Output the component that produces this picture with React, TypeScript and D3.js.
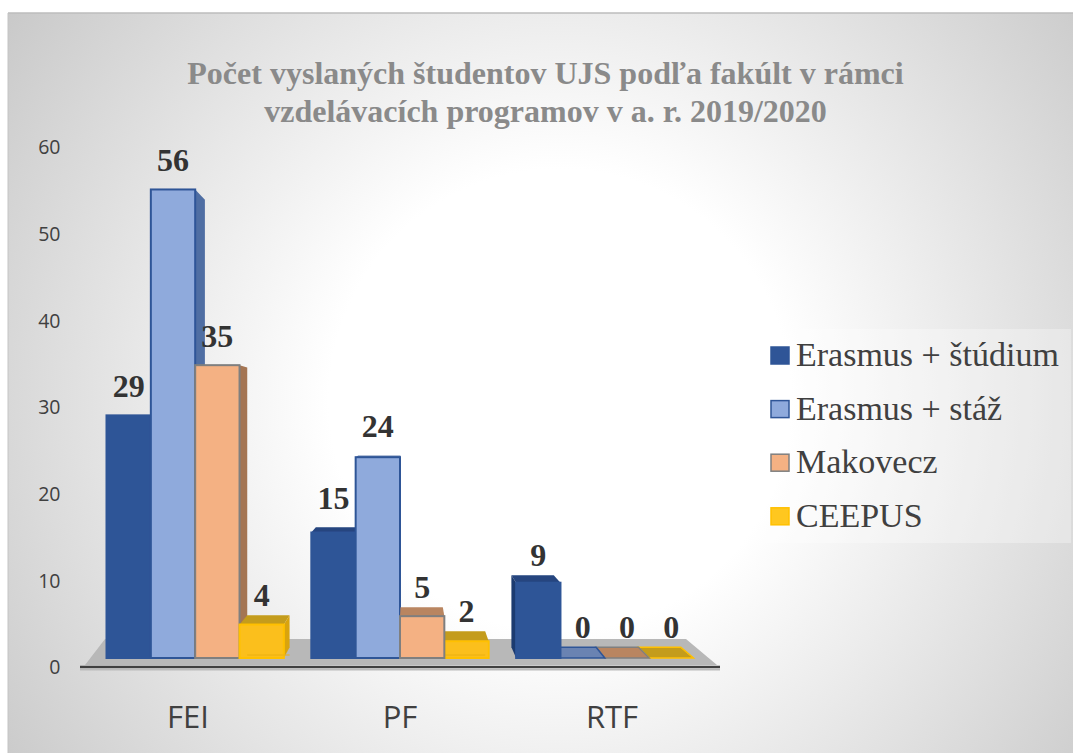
import React from "react";
import * as d3 from "d3";

const titleLines = ["Počet vyslaných študentov UJS podľa fakúlt v rámci", "vzdelávacích programov v a. r. 2019/2020"];
const categories = ["FEI", "PF", "RTF"];
const seriesNames = ["Erasmus + štúdium", "Erasmus + stáž", "Makovecz", "CEEPUS"];
const erasmusStudy = [29, 15, 9];
const erasmusIntern = [56, 24, 0];
const makovecz = [35, 5, 0];
const ceepus = [4, 2, 0];
const yTicks = [0, 10, 20, 30, 40, 50, 60];

const seriesValues = [erasmusStudy, erasmusIntern, makovecz, ceepus];
const faces = [
  { front: "#2f5597", stroke: "#2f5597", side: "#1f3b6f", top: "#25457f" },
  { front: "#8faadc", stroke: "#2f5597", side: "#4f6ea3", top: "#6a83b2" },
  { front: "#f4b183", stroke: "#7f7f7f", side: "#a47553", top: "#b98560" },
  { front: "#fbbf1c", stroke: "#ffc000", side: "#d9a410", top: "#c49c1c" },
];

const VX = 411, VY = 418, K = 0.045;
const back = (x: number, y: number): [number, number] => [x + K * (VX - x), y + K * (VY - y)];
const pts = (p: [number, number][]) => p.map((d) => d.join(",")).join(" ");

const serif = "'Liberation Serif', serif";
const sans = "'Open Sans', sans-serif";

export default function App() {
  const yFront = d3.scaleLinear().domain([0, 60]).range([658, 156]);
  const yTick = d3.scaleLinear().domain([0, 60]).range([667.5, 147.5]);
  const x0 = d3.scaleBand().domain(categories).range([106.5, 693.5]).paddingInner(0.134).paddingOuter(0);
  const x1 = d3.scaleBand<number>().domain(d3.range(4)).range([0, x0.bandwidth()]);
  const xLabel = d3.scalePoint().domain(categories).range([188, 612]);
  const base = yFront(0);

  const bars = categories.flatMap((c, ci) =>
    seriesValues.map((vals, si) => {
      const left = x0(c)! + x1(si)!;
      return { si, v: vals[ci], left, right: left + x1.bandwidth(), top: yFront(vals[ci]) };
    })
  );
  const ordered = d3.sort(bars, (a, b) =>
    d3.descending(Math.abs((a.left + a.right) / 2 - VX), Math.abs((b.left + b.right) / 2 - VX))
  );

  return (
    <svg width={1073} height={753} style={{ position: "absolute", left: 0, top: 0, display: "block" }}>
      <defs>
        <radialGradient id="bg" gradientUnits="userSpaceOnUse" cx={560} cy={400} r={700}>
          <stop offset="0" stopColor="#ffffff" />
          <stop offset="0.33" stopColor="#ffffff" />
          <stop offset="1" stopColor="#c6c6c6" />
        </radialGradient>
        <filter id="soft" x="-5%" y="-5%" width="110%" height="110%">
          <feGaussianBlur stdDeviation="0.5" />
        </filter>
      </defs>
      <rect x={0} y={0} width={1073} height={753} fill="#fff" />
      <rect x={8} y={13} width={1065} height={740} fill="url(#bg)" />
      <line x1={8} x2={1073} y1={13} y2={13} stroke="#bdbdbd" strokeWidth={1.5} />
      <line x1={8} x2={8} y1={13} y2={753} stroke="#c4c4c4" strokeWidth={1} />

      {titleLines.map((t, i) => (
        <text key={t} x={545.5} y={84 + i * 37.5} textAnchor="middle" fontFamily={serif} fontWeight="bold" fontSize={32} fill="#8a8a8a">
          {t}
        </text>
      ))}

      {yTicks.map((t) => (
        <text key={t} x={60.5} y={yTick(t)} dy="0.35em" textAnchor="end" fontFamily={sans} fontSize={19.5} fill="#404040">
          {t}
        </text>
      ))}

      <g filter="url(#soft)">
        <polygon points={pts([[85, 665], [105, base - 19], [686, base - 19], [717, 665]])} fill="#b8b8b8" />
        <line x1={80} x2={720} y1={667} y2={667} stroke="#404040" strokeWidth={2.5} />
        <line x1={80} x2={720} y1={669.5} y2={669.5} stroke="#bbbbbb" strokeWidth={2} />

        {ordered.map((b, i) => {
          const f = faces[b.si];
          const [blx, bty] = back(b.left, b.top);
          const [brx] = back(b.right, b.top);
          const [, bby] = back(b.left, base);
          const rightVisible = brx > b.right;
          const leftVisible = blx < b.left;
          return (
            <g key={i}>
              {bty < b.top && (
                <polygon
                  points={pts([[b.left, b.top], [blx, bty], [brx, bty], [b.right, b.top]])}
                  fill={f.top}
                  stroke={b.v === 0 ? f.stroke : "none"}
                  strokeWidth={b.v === 0 ? 1.5 : 0}
                />
              )}
              {rightVisible && b.v > 0 && (
                <polygon points={pts([[b.right, b.top], [brx, bty], [brx, bby], [b.right, base]])} fill={f.side} />
              )}
              {leftVisible && b.v > 0 && (
                <polygon points={pts([[b.left, b.top], [blx, bty], [blx, bby], [b.left, base]])} fill={f.side} />
              )}
              {b.v > 0 && (
                <rect x={b.left} y={b.top} width={b.right - b.left} height={base - b.top} fill={f.front} stroke={f.stroke} strokeWidth={2} />
              )}
              {b.si === 3 && b.v > 0 && (
                <polyline points={pts([[blx, base - 3], [brx, base - 3]])} fill="none" stroke="#eab014" strokeWidth={1} />
              )}
            </g>
          );
        })}
      </g>

      {bars.map((b, i) => {
        const [, bty] = back(b.left, b.top);
        const y = Math.min(b.top, bty) - (b.v >= 10 ? 18 : 9.5);
        return (
          <text key={i} x={(b.left + b.right) / 2} y={y} textAnchor="middle" fontFamily={serif} fontWeight="bold" fontSize={32} fill="#333333">
            {b.v}
          </text>
        );
      })}

      {categories.map((c) => (
        <text key={c} x={xLabel(c)!} y={728} textAnchor="middle" fontFamily={sans} fontSize={31} fill="#404040">
          {c}
        </text>
      ))}

      <rect x={757} y={329} width={314} height={214} fill="#ffffff" fillOpacity={0.3} />
      {seriesNames.map((n, i) => (
        <g key={n} transform={`translate(0,${i * 53.6})`}>
          <rect x={771} y={347} width={18} height={17} fill={faces[i].front === "#fbbf1c" ? "#ffc71f" : faces[i].front} stroke={faces[i].stroke} strokeWidth={1.5} />
          <text x={796} y={366} fontFamily={serif} fontSize={34} fill="#404040">
            {n}
          </text>
        </g>
      ))}
    </svg>
  );
}
